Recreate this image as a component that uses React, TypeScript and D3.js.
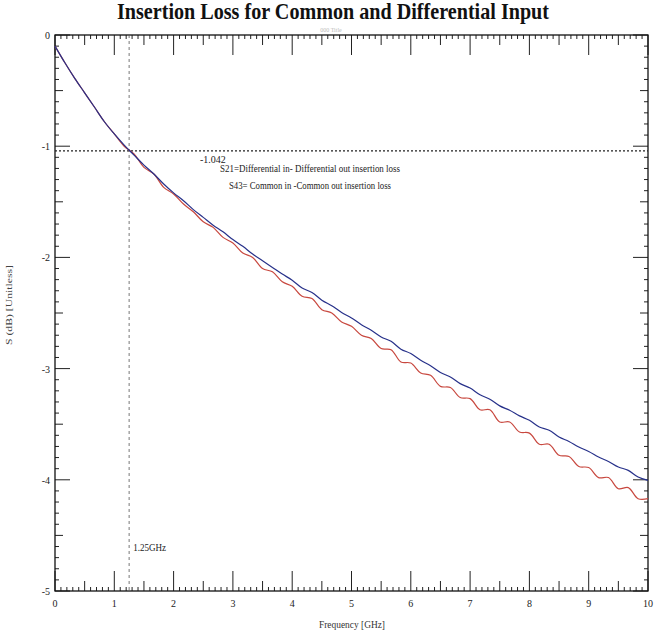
import * as d3 from "d3";

// frequency grid (GHz), read every 1/6 GHz
const freqGHz = [
  0, 0.167, 0.333, 0.5, 0.667, 0.833, 1, 1.167, 1.333, 1.5, 1.667, 1.833,
  2, 2.167, 2.333, 2.5, 2.667, 2.833, 3, 3.167, 3.333, 3.5, 3.667, 3.833,
  4, 4.167, 4.333, 4.5, 4.667, 4.833, 5, 5.167, 5.333, 5.5, 5.667, 5.833,
  6, 6.167, 6.333, 6.5, 6.667, 6.833, 7, 7.167, 7.333, 7.5, 7.667, 7.833,
  8, 8.167, 8.333, 8.5, 8.667, 8.833, 9, 9.167, 9.333, 9.5, 9.667, 9.833, 10,
];

// S21 differential in -> differential out (blue)
const s21Diff = [
  -0.1, -0.25, -0.39, -0.52, -0.65, -0.78, -0.89, -0.99, -1.08, -1.17, -1.25, -1.34,
  -1.42, -1.49, -1.57, -1.64, -1.71, -1.77, -1.84, -1.9, -1.97, -2.03, -2.09, -2.15,
  -2.205, -2.275, -2.315, -2.385, -2.435, -2.495, -2.545, -2.605, -2.655, -2.715, -2.755, -2.825,
  -2.865, -2.925, -2.975, -3.035, -3.075, -3.135, -3.175, -3.235, -3.275, -3.335, -3.375, -3.425,
  -3.465, -3.525, -3.555, -3.615, -3.655, -3.705, -3.745, -3.795, -3.835, -3.885, -3.915, -3.975, -4.005,
];

// S43 common in -> common out (red)
const s43Comm = [
  -0.1, -0.25, -0.39, -0.52, -0.65, -0.78, -0.89, -1.0, -1.07, -1.19, -1.25, -1.37,
  -1.43, -1.52, -1.59, -1.68, -1.73, -1.82, -1.87, -1.96, -2.0, -2.1, -2.13, -2.22,
  -2.26, -2.35, -2.37, -2.47, -2.5, -2.58, -2.62, -2.7, -2.73, -2.82, -2.83, -2.94,
  -2.95, -3.04, -3.06, -3.16, -3.17, -3.26, -3.27, -3.37, -3.37, -3.48, -3.48, -3.57,
  -3.58, -3.68, -3.68, -3.78, -3.79, -3.88, -3.89, -3.98, -3.98, -4.08, -4.07, -4.17, -4.17,
];

const xTickLabels = ["0", "1", "2", "3", "4", "5", "6", "7", "8", "9", "10"];
const yTickLabels = ["0", "-1", "-2", "-3", "-4", "-5"];

const markerFreq = 1.25;
const markerLevel = -1.042;

const serif = "'Liberation Serif', 'DejaVu Serif', serif";

export default function App() {
  const x = d3.scaleLinear().domain([0, 10]).range([55, 648]);
  const y = d3.scaleLinear().domain([0, -5]).range([35, 591]);
  const [x0, x1] = x.range();
  const [y0, y1] = y.range();

  const line = d3
    .line<number>()
    .x((_, i) => x(freqGHz[i]))
    .y((d) => y(d))
    .curve(d3.curveCatmullRom.alpha(0.5));

  const xMinor = x.ticks(100);
  const yMinor = y.ticks(50);

  // tick length: integer, half or tenth
  const xLen = (v: number) =>
    Math.abs(v - Math.round(v)) < 1e-6 ? 20 : Math.abs(v * 2 - Math.round(v * 2)) < 1e-6 ? 10 : 4;
  const yLen = (v: number) =>
    Math.abs(v - Math.round(v)) < 1e-6 ? 15 : Math.abs(v * 2 - Math.round(v * 2)) < 1e-6 ? 8 : 4;

  return (
    <svg
      width={660}
      height={631}
      style={{ position: "absolute", left: 0, top: 0, background: "#fff" }}
    >
      <text
        x={333}
        y={19}
        textAnchor="middle"
        fontFamily={serif}
        fontWeight="bold"
        fontSize={23}
        textLength={432}
        lengthAdjust="spacingAndGlyphs"
        fill="#111"
      >
        Insertion Loss for Common and Differential Input
      </text>
      <text x={331} y={32} textAnchor="middle" fontFamily={serif} fontSize={6} fill="#bbb">
        000 Title
      </text>

      {/* ticks on all four sides, pointing inward */}
      <g stroke="#222" strokeWidth={1}>
        {xMinor.map((v, i) => (
          <g key={"xt" + i}>
            <line x1={x(v)} x2={x(v)} y1={y1} y2={y1 - xLen(v)} />
            <line x1={x(v)} x2={x(v)} y1={y0} y2={y0 + xLen(v)} />
          </g>
        ))}
        {yMinor.map((v, i) => (
          <g key={"yt" + i}>
            <line x1={x0} x2={x0 + yLen(v)} y1={y(v)} y2={y(v)} />
            <line x1={x1} x2={x1 - yLen(v)} y1={y(v)} y2={y(v)} />
          </g>
        ))}
      </g>

      <rect x={x0} y={y0} width={x1 - x0} height={y1 - y0} fill="none" stroke="#111" strokeWidth={1.3} />

      {/* marker lines */}
      <line
        x1={x0}
        x2={x1}
        y1={y(markerLevel)}
        y2={y(markerLevel)}
        stroke="#222"
        strokeWidth={1.3}
        strokeDasharray="2,2"
      />
      <line
        x1={x(markerFreq)}
        x2={x(markerFreq)}
        y1={y0}
        y2={y1}
        stroke="#555"
        strokeWidth={0.8}
        strokeDasharray="3,3"
      />

      <path d={line(s43Comm) ?? ""} fill="none" stroke="#c8483f" strokeWidth={1.2} />
      <path d={line(s21Diff) ?? ""} fill="none" stroke="#27318a" strokeWidth={1.2} />

      {/* tick labels */}
      <g fontFamily={serif} fontSize={10} fill="#222">
        {xTickLabels.map((t, i) => (
          <text key={"xl" + i} x={x(i)} y={607} textAnchor="middle">
            {t}
          </text>
        ))}
        {yTickLabels.map((t, i) => (
          <text key={"yl" + i} x={x0 - 5} y={y(-i) + 4} textAnchor="end">
            {t}
          </text>
        ))}
      </g>

      <text
        x={352}
        y={628}
        textAnchor="middle"
        fontFamily={serif}
        fontSize={10}
        textLength={66}
        lengthAdjust="spacingAndGlyphs"
        fill="#333"
      >
        Frequency [GHz]
      </text>
      <text
        transform="translate(12,305) rotate(-90)"
        textAnchor="middle"
        fontFamily={serif}
        fontSize={9}
        textLength={80}
        lengthAdjust="spacingAndGlyphs"
        fill="#444"
      >
        S (dB) [Unitless]
      </text>

      {/* annotations */}
      <g fontFamily={serif} fill="#222">
        <text x={200} y={163} fontSize={10}>
          -1.042
        </text>
        <text x={310} y={172} textAnchor="middle" fontSize={11} textLength={180} lengthAdjust="spacingAndGlyphs">
          S21=Differential in- Differential out insertion loss
        </text>
        <text x={310} y={189} textAnchor="middle" fontSize={11} textLength={162} lengthAdjust="spacingAndGlyphs">
          S43= Common in -Common out insertion loss
        </text>
        <text x={x(markerFreq) + 4} y={551} fontSize={10} textLength={33} lengthAdjust="spacingAndGlyphs">
          1.25GHz
        </text>
      </g>
    </svg>
  );
}
